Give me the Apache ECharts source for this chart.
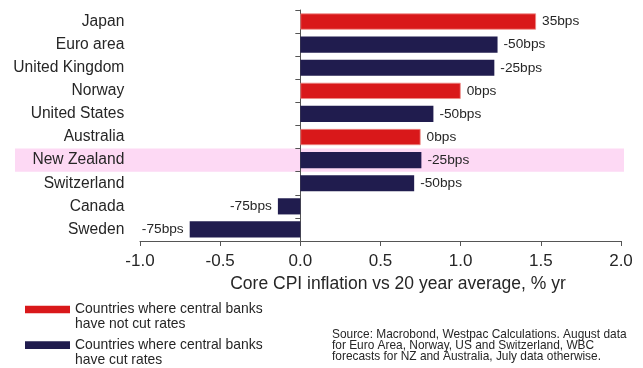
<!DOCTYPE html>
<html>
<head>
<meta charset="utf-8">
<script src="https://cdn.jsdelivr.net/npm/echarts@6/dist/echarts.min.js"></script>
<style>
  html, body { margin: 0; padding: 0; background: #fff; }
  #chart { width: 643px; height: 368px; }
</style>
</head>
<body>
<div id="chart"></div>
<script>
// Core CPI inflation relative to its 20-year average (% yr), top to bottom
const countries = ['Japan', 'Euro area', 'United Kingdom', 'Norway', 'United States',
                   'Australia', 'New Zealand', 'Switzerland', 'Canada', 'Sweden'];
const coreCpiGap = [1.47, 1.23, 1.21, 1.00, 0.83, 0.75, 0.755, 0.71, -0.14, -0.69];
// Cumulative policy-rate change, basis points
const rateChangeBps = [35, -50, -25, 0, -50, 0, -25, -50, -75, -75];
const highlighted = 'New Zealand';
const xTicks = { min: -1, max: 2, step: 0.5 };

const notCutName = 'Countries where central banks\nhave not cut rates';
const cutName = 'Countries where central banks\nhave cut rates';
const sourceNote = 'Source: Macrobond, Westpac Calculations. August data\n' +
  'for Euro Area, Norway, US and Switzerland, WBC\n' +
  'forecasts for NZ and Australia, July data otherwise.';

const RED = '#D9181A';
const NAVY = '#201C4E';
const TEXT = '#262626';
const AXIS = '#555';
const FONT = '"Liberation Sans", Arial, sans-serif';

function barItem(i, wantCut) {
  const isCut = rateChangeBps[i] < 0;
  if (isCut !== wantCut) return '-';
  const v = coreCpiGap[i];
  return {
    value: v,
    label: { position: v < 0 ? 'left' : 'right' }
  };
}

const labelStyle = {
  show: true,
  distance: 6,
  fontSize: 13.7,
  fontFamily: FONT,
  color: TEXT,
  formatter: p => rateChangeBps[p.dataIndex] + 'bps'
};

const chart = echarts.init(document.getElementById('chart'), null, { renderer: 'canvas' });

chart.setOption({
  animation: false,
  textStyle: { fontFamily: FONT },
  grid: { left: 140, right: 22, top: 10, bottom: 127, containLabel: false },
  title: {
    text: sourceNote,
    left: 332,
    top: 329,
    padding: 0,
    textStyle: { fontSize: 11.9, fontWeight: 'normal', color: TEXT, lineHeight: 11, fontFamily: FONT }
  },
  legend: {
    orient: 'vertical',
    left: 25,
    top: 287,
    padding: 0,
    itemWidth: 45,
    itemHeight: 7.7,
    itemGap: -9.3,
    itemTextGap: 2,
    icon: 'rect',
    itemStyle: { borderWidth: 0 },
    data: [notCutName, cutName],
    // a leading blank line keeps the swatch level with the first text line
    formatter: name => '\n' + name,
    textStyle: { fontSize: 13.9, color: TEXT, lineHeight: 15, fontFamily: FONT }
  },
  xAxis: {
    type: 'value',
    min: xTicks.min,
    max: xTicks.max,
    interval: xTicks.step,
    name: 'Core CPI inflation vs 20 year average, % yr',
    nameLocation: 'middle',
    nameGap: 30,
    nameTextStyle: { fontSize: 17.5, color: TEXT, padding: [0, 0, 0, 35], fontFamily: FONT },
    axisLine: { show: true, lineStyle: { color: AXIS, width: 1 } },
    axisTick: { show: true, length: 5, lineStyle: { color: AXIS } },
    axisLabel: { fontSize: 17, color: TEXT, margin: 12, formatter: v => v.toFixed(1), fontFamily: FONT },
    splitLine: { show: false }
  },
  yAxis: [
    {
      type: 'category',
      data: countries,
      inverse: true,
      axisLine: { show: false, onZero: false },
      axisTick: { show: false },
      axisLabel: { fontSize: 15.6, color: TEXT, margin: 15.7, fontFamily: FONT }
    },
    {
      type: 'category',
      data: countries,
      inverse: true,
      position: 'left',
      axisLine: { show: true, onZero: true, lineStyle: { color: AXIS, width: 1 } },
      axisTick: { show: true, length: 5, lineStyle: { color: AXIS } },
      axisLabel: { show: false }
    }
  ],
  series: [
    {
      name: notCutName,
      type: 'bar',
      yAxisIndex: 0,
      barCategoryGap: '30%',
      barGap: '-100%',
      itemStyle: { color: RED, borderColor: '#EE8A86', borderWidth: 0.8 },
      label: labelStyle,
      data: countries.map((_, i) => barItem(i, false))
    },
    {
      name: cutName,
      type: 'bar',
      yAxisIndex: 0,
      barCategoryGap: '30%',
      barGap: '-100%',
      itemStyle: { color: NAVY },
      label: labelStyle,
      data: countries.map((_, i) => barItem(i, true))
    }
  ]
});

// Pink highlight band behind the New Zealand row, sized from the category axis
function drawHighlight() {
  const idx = countries.indexOf(highlighted);
  const yMid = chart.convertToPixel({ yAxisIndex: 0 }, highlighted);
  const yNext = chart.convertToPixel({ yAxisIndex: 0 }, countries[idx + 1]);
  const band = Math.abs(yNext - yMid);
  const xRight = chart.convertToPixel({ xAxisIndex: 0 }, xTicks.max) + 3;
  chart.setOption({
    graphic: [{
      type: 'rect',
      id: 'nzBand',
      z: -10,
      silent: true,
      shape: { x: 15, y: yMid - band / 2, width: xRight - 15, height: band },
      style: { fill: '#FDD9F4' }
    }]
  });
}
drawHighlight();
</script>
</body>
</html>
